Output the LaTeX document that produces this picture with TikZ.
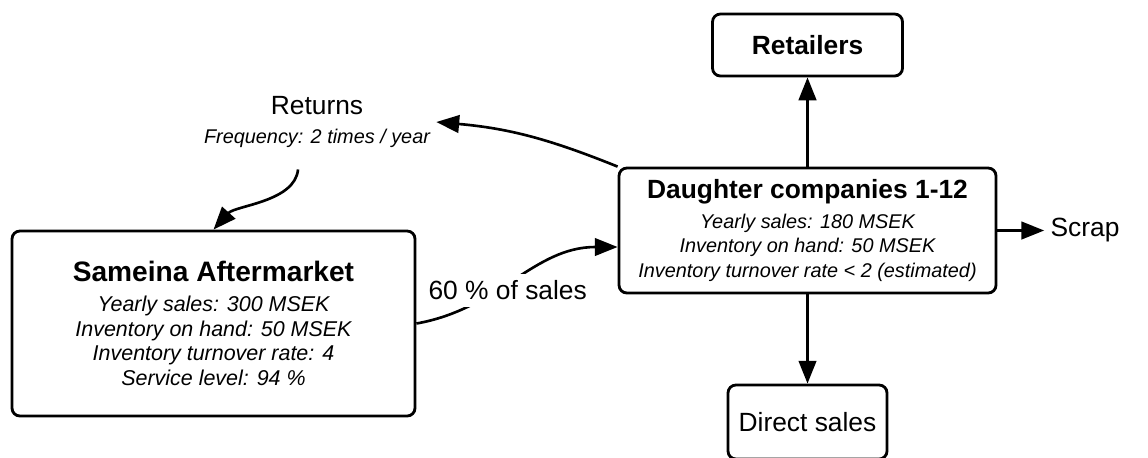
\documentclass[tikz,border=0pt]{standalone}
\usepackage{fontspec}
\setmainfont{Liberation Sans}
\usetikzlibrary{arrows.meta,positioning}

\newcommand{\bigtext}{\fontsize{15}{17}\selectfont}
\newcommand{\smalltext}{\fontsize{11.3}{14}\selectfont\itshape}
\tikzset{
  box/.style={draw,rounded corners=4.5pt,line width=1.6pt,align=center,font=\smalltext},
  flow/.style={-{Triangle[length=13pt,width=10pt]},line width=1.5pt},
}

\begin{document}
\begin{tikzpicture}[node distance=3.71cm,on grid,semithick]
      \useasboundingbox (0,0) rectangle (22.96,-9.14);
      \clip (0,0) rectangle (22.96,-9.14);
			\node[box,minimum width=7.54cm,minimum height=2.5cm] (daughter) at (16.15,-4.61)
        {{\bigtext\bfseries\upshape Daughter companies 1-12}\\[3pt]
         Yearly sales: 180 MSEK\\ Inventory on hand: 50 MSEK\\ Inventory turnover rate < 2 (estimated)};
			\node[box,minimum width=3.8cm,minimum height=1.24cm,font=\bigtext\bfseries] (retailers) [above of=daughter] {Retailers};
			\node[box,minimum width=3.18cm,minimum height=1.48cm,font=\bigtext,node distance=3.83cm] (direct) [below of=daughter] {Direct sales};
			\node[font=\bigtext,node distance=5.55cm] (scrap) [right of=daughter] {Scrap};
			\node[box,minimum width=8.06cm,minimum height=3.7cm,font=\fontsize{12.2}{14}\selectfont\itshape] (sameina) at (4.27,-6.47)
        {{\fontsize{16}{17}\selectfont\bfseries\upshape Sameina Aftermarket}\\[3pt]
         Yearly sales: 300 MSEK\\ Inventory on hand: 50 MSEK\\ Inventory turnover rate: 4\\ Service level: 94 \%};
			\node[align=center,font=\bigtext] (returns) at (6.34,-2.44) {Returns\\ {\smalltext Frequency: 2 times / year}};
			\path[flow]
				(daughter) edge (retailers)
        (daughter) edge (direct)
        (daughter) edge (scrap)
        (daughter.north west) edge[out=158,in=-5] (returns.east)
        ([xshift=-0.38cm,yshift=-0.3cm]returns.south) edge[out=-95,in=48,looseness=0.8] (sameina.north)
        (sameina.east) edge[out=10,in=180] node[fill=white,font=\bigtext,inner sep=4pt,pos=0.45,yshift=-3pt] {60 \% of sales} ([yshift=-0.33cm]daughter.west);
		\end{tikzpicture}
\end{document}
